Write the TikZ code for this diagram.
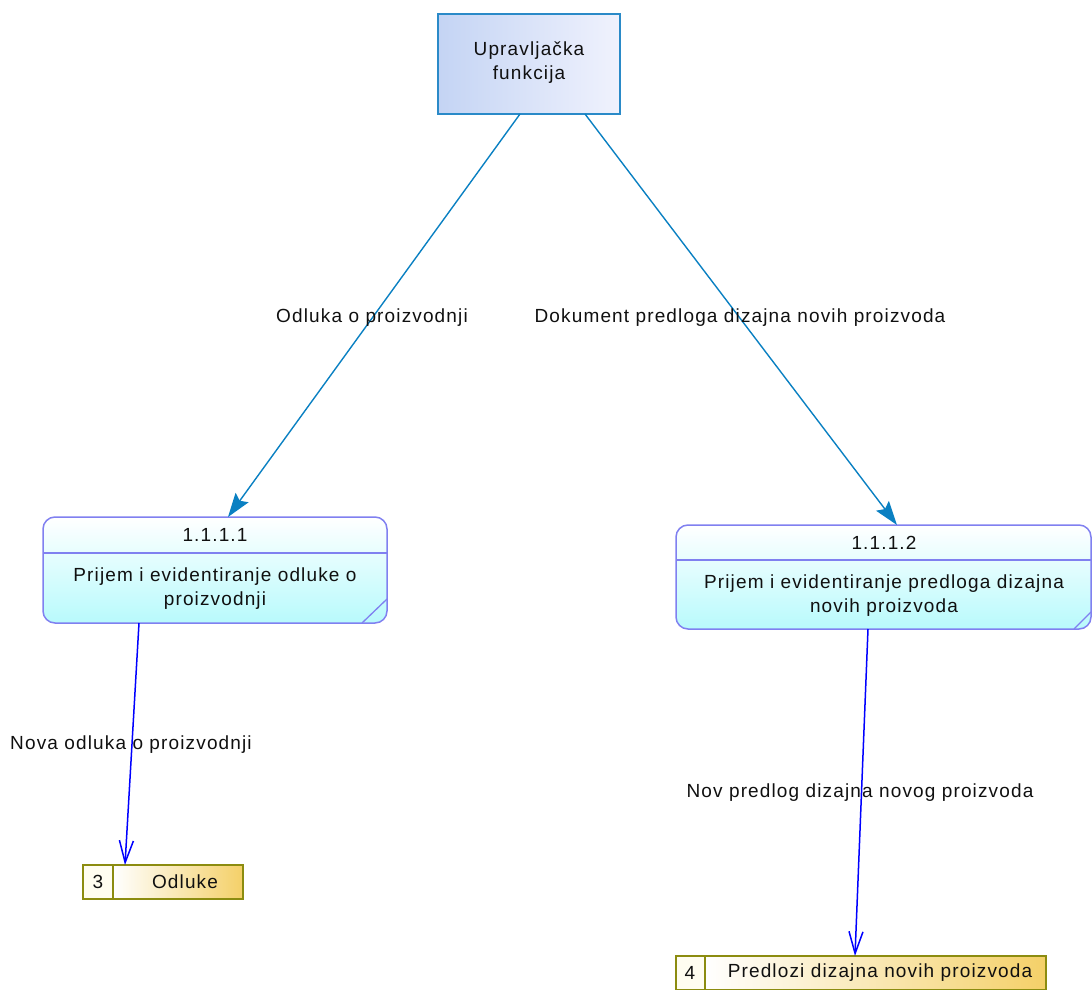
\documentclass[tikz,border=0pt]{standalone}
\usepackage{fontspec}
\setmainfont{Liberation Sans}[LetterSpace=6]
\usetikzlibrary{arrows.meta}
\definecolor{txt}{HTML}{101010}
\definecolor{extborder}{HTML}{2A8AC8}
\definecolor{extA}{HTML}{C4D4F4}
\definecolor{extB}{HTML}{F0F2FD}
\definecolor{procborder}{HTML}{8080F0}
\definecolor{procB}{HTML}{B8FAFC}
\definecolor{storeborder}{HTML}{8C8C10}
\definecolor{storeB}{HTML}{F4D068}
\definecolor{storeNum}{HTML}{FFFDF0}
\definecolor{flowA}{HTML}{0A80C2}
\definecolor{flowB}{HTML}{0000FF}
\tikzset{
  lbl/.style={font=\fontsize{19}{24}\selectfont, text=txt, inner sep=0pt, align=center},
  extbox/.style={draw=extborder, line width=1.5pt, left color=extA, right color=extB},
  procbox/.style={draw=procborder, line width=1.5pt, rounded corners=12pt, top color=white, bottom color=procB},
  procline/.style={draw=procborder, line width=1.3pt},
  storebox/.style={draw=storeborder, line width=1.5pt, left color=white, right color=storeB},
  storenum/.style={draw=storeborder, line width=1.5pt, fill=storeNum},
  flowctl/.style={draw=flowA, line width=1.4pt, -{Stealth[length=24pt,width=16pt,inset=4pt]}, color=flowA},
  flowdata/.style={draw=flowB, line width=1.5pt, -{Straight Barb[length=22pt,width=14pt,line width=1.5pt]}, color=flowB},
}
\begin{document}
\begin{tikzpicture}[x=1pt,y=-1pt]
\useasboundingbox (0,0) rectangle (1092,990);
% external entity
\path[extbox] (438,14) rectangle (620,114);
\node[lbl] (ext) at (529,63) {Upravljačka\\funkcija};
\coordinate (extL) at (520,114);
\coordinate (extR) at (585,114);
% process 1
\path[procbox] (43,517) rectangle (387,623);
\draw[procline] (43,553) -- (387,553);
\draw[procline] (387,599) -- (362,623);
\node[lbl] (p1id) at (215,535) {1.1.1.1};
\node[lbl] (p1) at (215,589) {Prijem i evidentiranje odluke o\\proizvodnji};
\coordinate (p1top) at (228,517);
\coordinate (p1bot) at (139,623);
% process 2
\path[procbox] (676,525) rectangle (1091,629);
\draw[procline] (676,560) -- (1091,560);
\draw[procline] (1091,612) -- (1074,629);
\node[lbl] (p2id) at (884,543) {1.1.1.2};
\node[lbl] (p2) at (884,596) {Prijem i evidentiranje predloga dizajna\\novih proizvoda};
\coordinate (p2top) at (897,525);
\coordinate (p2bot) at (868,629);
% store 3
\path[storenum] (83,865) rectangle (113,899);
\path[storebox] (113,865) rectangle (243,899);
\node[lbl] (s3n) at (98,882) {3};
\node[lbl] (s3) at (185,882) {Odluke};
\coordinate (s3top) at (125,865);
% store 4
\path[storenum] (676,956) rectangle (705,990);
\path[storebox] (705,956) rectangle (1046,990);
\node[lbl] (s4n) at (690,973) {4};
\node[lbl] (s4) at (880,973) {Predlozi dizajna novih proizvoda};
\coordinate (s4top) at (855,956);
% flows
\draw[flowctl] (extL) -- (p1top);
\draw[flowctl] (extR) -- (p2top);
\draw[flowdata] (p1bot) -- (s3top);
\draw[flowdata] (p2bot) -- (s4top);
% labels
\node[lbl] (f1) at (372,318) {Odluka o proizvodnji};
\node[lbl] (f2) at (740,318) {Dokument predloga dizajna novih proizvoda};
\node[lbl] (f3) at (131,745) {Nova odluka o proizvodnji};
\node[lbl] (f4) at (860,793) {Nov predlog dizajna novog proizvoda};
\end{tikzpicture}
\end{document}
